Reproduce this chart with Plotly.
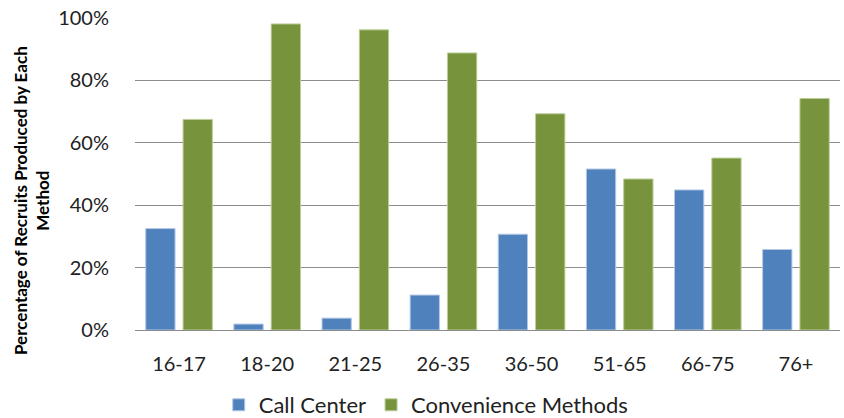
import plotly.graph_objects as go

# Age groups on the category axis
age_groups = ["16-17", "18-20", "21-25", "26-35", "36-50", "51-65", "66-75", "76+"]

# Share of recruits (%) produced by each method
call_center = [32.5, 1.9, 3.8, 11.2, 30.7, 51.6, 44.9, 25.8]
convenience = [67.5, 98.1, 96.2, 88.8, 69.3, 48.4, 55.1, 74.2]

y_ticks = [0, 20, 40, 60, 80, 100]
y_tick_labels = ["0%", "20%", "40%", "60%", "80%", "100%"]

FONT = "Lato"

fig = go.Figure()
fig.add_trace(go.Bar(
    x=age_groups, y=call_center, name="Call Center",
    marker=dict(color="#4F81BD", line=dict(color="#B4C8E4", width=1)),
))
fig.add_trace(go.Bar(
    x=age_groups, y=convenience, name="Convenience Methods",
    marker=dict(color="#77933C", line=dict(color="#BCCD9A", width=1)),
))

fig.update_layout(
    width=844, height=418,
    margin=dict(l=135, r=4, t=18, b=88, autoexpand=False),
    paper_bgcolor="white", plot_bgcolor="white",
    barmode="group", bargap=0.153, bargroupgap=0.215,
    font=dict(family=FONT, color="#222222", size=20),
    showlegend=True,
    legend=dict(
        orientation="h", xref="container", x=0.505, xanchor="center",
        yref="container", y=1 - 405 / 418, yanchor="middle",
        font=dict(family=FONT, size=22, color="#222222"),
        itemclick=False, traceorder="normal",
    ),
    xaxis=dict(
        showgrid=False, showline=False, ticks="",
        ticklabelstandoff=20,
        tickfont=dict(family=FONT, size=20, color="#222222"),
    ),
    yaxis=dict(
        range=[0, 100], tickmode="array", tickvals=y_ticks, ticktext=y_tick_labels,
        showgrid=True, gridcolor="#8C8C8C", gridwidth=1,
        zeroline=True, zerolinecolor="#8C8C8C", zerolinewidth=1,
        showline=False, ticks="", ticklabelstandoff=25,
        tickfont=dict(family=FONT, size=20, color="#222222"),
    ),
    annotations=[dict(
        text="Percentage of Recruits Produced by Each<br>Method",
        xref="paper", yref="paper",
        x=(31 - 135) / 705, y=(330 - 201) / 312,
        xanchor="center", yanchor="middle",
        textangle=-90, showarrow=False,
        font=dict(family=FONT, size=17, color="black", weight="bold"),
    )],
)

fig.write_html("out.html")
